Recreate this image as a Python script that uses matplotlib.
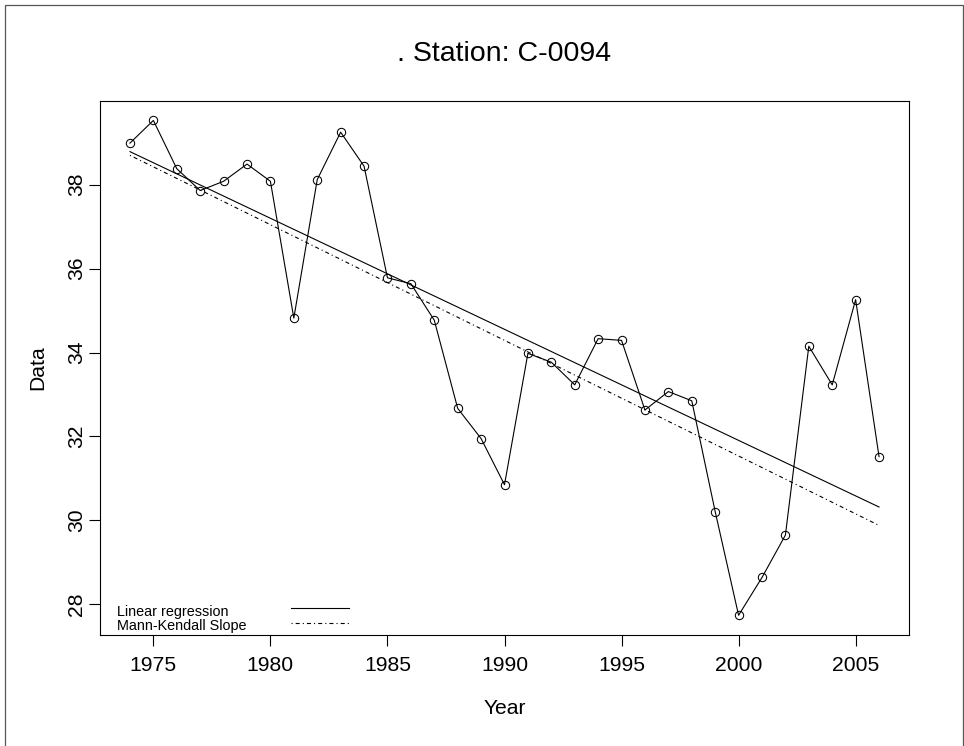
import matplotlib
matplotlib.use('Agg')
import matplotlib.pyplot as plt
import numpy as np
from matplotlib.lines import Line2D
from matplotlib.patches import Rectangle

plt.rcParams['font.family'] = ['Liberation Sans', 'DejaVu Sans']
plt.rcParams['lines.scale_dashes'] = False

# yearly values
years = list(range(1974, 2007))
values = [38.99, 39.53, 38.38, 37.86, 38.08, 38.49, 38.08, 34.82, 38.12, 39.25,
          38.44, 35.78, 35.64, 34.77, 32.67, 31.95, 30.85, 33.98, 33.77, 33.23,
          34.33, 34.29, 32.63, 33.07, 32.85, 30.21, 27.74, 28.64, 29.65, 34.15,
          33.23, 35.26, 31.52]

xticks = [1975, 1980, 1985, 1990, 1995, 2000, 2005]
yticks = [28, 30, 32, 34, 36, 38]
title = '. Station: C-0094'
labels = ['Linear regression', 'Mann-Kendall Slope']

W, H = 964, 746

def fx(px):
    return px / W

def fy(py):
    return 1 - py / H


def main():
    x = np.array(years, dtype=float)
    y = np.array(values)

    # ordinary least squares
    slope, icpt = np.polyfit(x, y, 1)
    # Sen's slope (Mann-Kendall), line through the medians
    pair = [(y[j] - y[i]) / (x[j] - x[i]) for i in range(len(x)) for j in range(i + 1, len(x))]
    sen = np.median(pair)
    sen_icpt = np.median(y) - sen * np.median(x)

    fig = plt.figure(figsize=(W / 100, H / 100), dpi=100)
    ax = fig.add_axes([fx(100), fy(635), fx(909) - fx(100), fy(100.7) - fy(635)])

    ax.plot(x, y, color='black', lw=0.8, marker='o', ms=6, mfc='none', mec='black', mew=0.75)
    ax.plot(x, icpt + slope * x, color='black', lw=0.8)
    ax.plot(x, sen_icpt + sen * x, color='black', lw=0.8, dashes=(0.8, 2.2, 2.9, 2.2))

    ax.set_xlim(1972.72, 2007.28)
    ax.set_ylim(27.27, 40.0)
    ax.set_xticks(xticks)
    ax.set_yticks(yticks)
    ax.set_yticklabels([str(v) for v in yticks], rotation=90, va='center')
    ax.tick_params(axis='both', direction='out', length=8, width=0.8, labelsize=15.2, color='black')
    ax.tick_params(axis='x', pad=7)
    ax.tick_params(axis='y', pad=2)
    for sp in ax.spines.values():
        sp.set_linewidth(0.8)

    fig.text(0.5 * (fx(100) + fx(909)), fy(61), title, ha='center', va='baseline', fontsize=20.5)
    fig.text(0.5 * (fx(100) + fx(909)), fy(714), 'Year', ha='center', va='baseline', fontsize=15.2)
    fig.text(fx(47), 0.5 * (fy(100.7) + fy(635)), 'Data', rotation=90, ha='right', va='center', fontsize=15.2)

    # legend without box, handles to the right of the text
    fig.text(fx(116.7), fy(616), labels[0], ha='left', va='baseline', fontsize=10.4)
    fig.text(fx(116.7), fy(630.2), labels[1], ha='left', va='baseline', fontsize=10.4)
    fig.add_artist(Line2D([fx(291), fx(348.7)], [fy(608.3)] * 2, color='black', lw=0.8))
    fig.add_artist(Line2D([fx(291), fx(348.7)], [fy(623)] * 2, color='black', lw=0.8,
                          dashes=(0.8, 2.2, 2.9, 2.2)))

    # outer frame
    fig.add_artist(Rectangle((fx(5), -0.01), fx(963) - fx(5), fy(5) + 0.01, fill=False,
                             edgecolor='#555555', lw=0.9))

    plt.savefig('out.png', dpi=100)
    return 0


if __name__ == '__main__':
    main()
